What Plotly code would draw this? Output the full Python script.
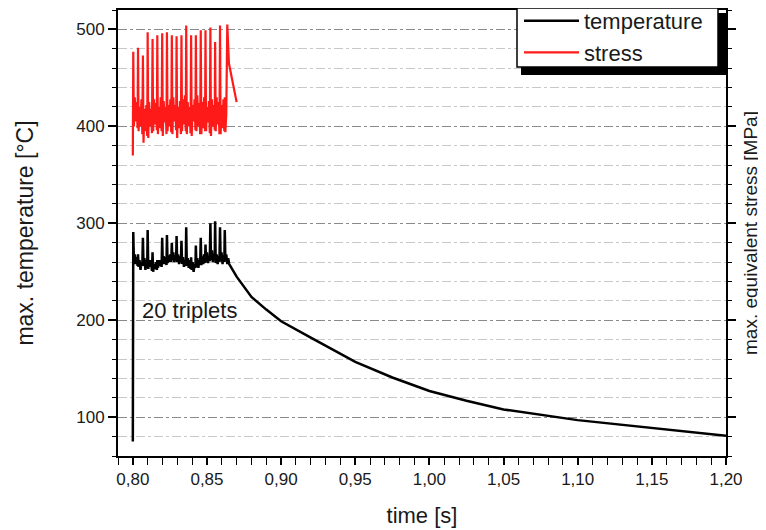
import plotly.graph_objects as go

# ---- data ----
t_start = [0.8000]
temp_start = [75]
stress_start = [370]

# 20 triplets, six samples each (peak, then the noisy base)
t_osc = [
    0.8003, 0.8007, 0.8013, 0.8020, 0.8026, 0.8032,
    0.8035, 0.8039, 0.8045, 0.8052, 0.8058, 0.8064,
    0.8068, 0.8072, 0.8078, 0.8085, 0.8091, 0.8097,
    0.8100, 0.8104, 0.8110, 0.8117, 0.8123, 0.8129,
    0.8133, 0.8137, 0.8143, 0.8150, 0.8156, 0.8162,
    0.8165, 0.8169, 0.8175, 0.8182, 0.8188, 0.8194,
    0.8198, 0.8202, 0.8208, 0.8215, 0.8221, 0.8227,
    0.8230, 0.8234, 0.8240, 0.8247, 0.8253, 0.8259,
    0.8263, 0.8267, 0.8273, 0.8280, 0.8286, 0.8292,
    0.8295, 0.8299, 0.8305, 0.8312, 0.8318, 0.8324,
    0.8328, 0.8332, 0.8338, 0.8345, 0.8351, 0.8357,
    0.8360, 0.8364, 0.8370, 0.8377, 0.8383, 0.8389,
    0.8393, 0.8397, 0.8403, 0.8410, 0.8416, 0.8422,
    0.8425, 0.8429, 0.8435, 0.8442, 0.8448, 0.8454,
    0.8458, 0.8462, 0.8468, 0.8475, 0.8481, 0.8487,
    0.8490, 0.8494, 0.8500, 0.8507, 0.8513, 0.8519,
    0.8523, 0.8527, 0.8533, 0.8540, 0.8546, 0.8552,
    0.8555, 0.8559, 0.8565, 0.8572, 0.8578, 0.8584,
    0.8588, 0.8592, 0.8598, 0.8605, 0.8611, 0.8617,
    0.8620, 0.8624, 0.8630, 0.8637, 0.8643, 0.8648,
]
temp_osc = [
    291, 262, 268, 258, 265, 256,
    268, 255, 262, 252, 260, 256,
    285, 256, 264, 252, 262, 254,
    293, 253, 262, 255, 262, 251,
    270, 250, 258, 253, 260, 252,
    262, 254, 262, 256, 262, 255,
    285, 258, 266, 258, 265, 257,
    288, 259, 267, 260, 268, 260,
    280, 262, 270, 260, 267, 262,
    287, 260, 268, 258, 266, 260,
    282, 258, 265, 255, 262, 256,
    296, 256, 264, 254, 262, 253,
    265, 252, 260, 250, 258, 254,
    277, 255, 264, 254, 262, 257,
    285, 257, 266, 258, 268, 259,
    278, 260, 270, 259, 266, 261,
    300, 262, 272, 260, 268, 262,
    302, 259, 268, 258, 266, 260,
    296, 261, 270, 258, 267, 260,
    293, 262, 268, 258, 264, 260,
]
stress_osc = [
    477, 400, 430, 405, 425, 398,
    481, 395, 420, 400, 428, 392,
    473, 383, 418, 395, 422, 390,
    497, 388, 425, 400, 418, 393,
    490, 395, 428, 402, 424, 396,
    494, 392, 420, 398, 430, 395,
    496, 390, 426, 404, 420, 392,
    497, 395, 422, 400, 428, 394,
    494, 392, 430, 405, 422, 396,
    493, 388, 420, 398, 426, 392,
    494, 395, 428, 402, 432, 395,
    504, 392, 425, 400, 420, 393,
    494, 390, 422, 405, 428, 396,
    494, 395, 432, 400, 424, 392,
    499, 392, 425, 398, 430, 395,
    499, 395, 420, 404, 426, 393,
    502, 390, 428, 400, 422, 396,
    487, 395, 430, 402, 425, 392,
    504, 392, 422, 398, 428, 395,
    430, 394, 412, 505, 475, 465,
]

t_cool = [0.865, 0.870, 0.875, 0.880, 0.890, 0.900, 0.920, 0.950, 0.975,
          1.000, 1.025, 1.050, 1.100, 1.150, 1.200]
temp_cool = [258, 245, 234, 224, 211, 199, 182, 157, 141,
             127, 117, 108, 97, 89, 81]

t_stress_end = [0.8700]
stress_end = [425]

x_ticks = [0.80, 0.85, 0.90, 0.95, 1.00, 1.05, 1.10, 1.15, 1.20]
y_ticks = [100, 200, 300, 400, 500]

FONT = "Liberation Sans, Arial, sans-serif"
TXT = "#1a1a1a"

fig = go.Figure()
fig.add_trace(go.Scatter(
    x=t_start + t_osc + t_cool, y=temp_start + temp_osc + temp_cool,
    mode="lines", name="temperature",
    line=dict(color="black", width=2.5)))
fig.add_trace(go.Scatter(
    x=t_start + t_osc + t_stress_end, y=stress_start + stress_osc + stress_end,
    mode="lines", name="stress", yaxis="y2",
    line=dict(color="#ff1a1a", width=2.2)))

fig.add_annotation(x=0.8047, y=210, xref="x", yref="y", text="20 triplets",
                   showarrow=False, xanchor="left",
                   font=dict(family=FONT, size=22, color=TXT))

# helpers: window pixel -> paper coordinates (plot area 118..726 x 10..456)
def px(xp):
    return (xp - 118) / 608

def py(yp):
    return (456 - yp) / 446

# legend shadow and legend frame
fig.add_shape(type="rect", xref="paper", yref="paper",
              x0=px(521), x1=px(727), y0=py(75), y1=py(13),
              fillcolor="black", line=dict(width=0), layer="above")
fig.add_shape(type="rect", xref="paper", yref="paper",
              x0=px(517), x1=px(718), y0=py(67), y1=py(8),
              fillcolor="white", line=dict(color="black", width=1.5), layer="above")

fig.update_layout(
    width=758, height=522,
    margin=dict(l=110, r=40, t=2, b=74, autoexpand=False),
    paper_bgcolor="white", plot_bgcolor="white",
    separators=",.",
    font=dict(family=FONT, color=TXT),
    showlegend=True,
    legend=dict(x=px(519), xanchor="left", y=py(0), yanchor="top",
                bgcolor="rgba(0,0,0,0)", borderwidth=0,
                font=dict(family=FONT, size=22, color=TXT),
                itemwidth=55, tracegroupgap=0),
    xaxis=dict(range=[0.79, 1.20], tickvals=x_ticks, tickformat=".2f",
               ticks="outside", ticklen=7, tickwidth=1.5, tickcolor="black",
               minor=dict(dtick=0.01, tick0=0.8, ticks="outside", ticklen=4,
                          tickwidth=1.2, tickcolor="black", showgrid=False),
               showline=True, linewidth=2, linecolor="black", mirror="allticks",
               showgrid=False, zeroline=False, automargin=False,
               tickfont=dict(family=FONT, size=17, color=TXT),
               title=dict(text="time [s]", font=dict(family=FONT, size=22),
                          standoff=19)),
    yaxis=dict(range=[60, 520], tickvals=y_ticks,
               ticks="outside", ticklen=8, tickwidth=1.5, tickcolor="black",
               minor=dict(dtick=20, tick0=0, ticks="outside", ticklen=4,
                          tickwidth=1.2, tickcolor="black", showgrid=True,
                          gridcolor="#c8c8c8", gridwidth=1.2),
               showline=True, linewidth=2, linecolor="black", mirror="allticks",
               showgrid=True, gridcolor="#8a8a8a", gridwidth=1.2, griddash="dashdot",
               zeroline=False, automargin=False,
               tickfont=dict(family=FONT, size=17, color=TXT),
               title=dict(text="max. temperature [°C]", font=dict(family=FONT, size=23),
                          standoff=36)),
    yaxis2=dict(range=[60, 520], overlaying="y", side="right",
                showticklabels=False, ticks="", showgrid=False, zeroline=False,
                showline=False, automargin=False,
                title=dict(text="max. equivalent stress [MPa]",
                           font=dict(family=FONT, size=19), standoff=17)),
)

fig.write_html("out.html")
